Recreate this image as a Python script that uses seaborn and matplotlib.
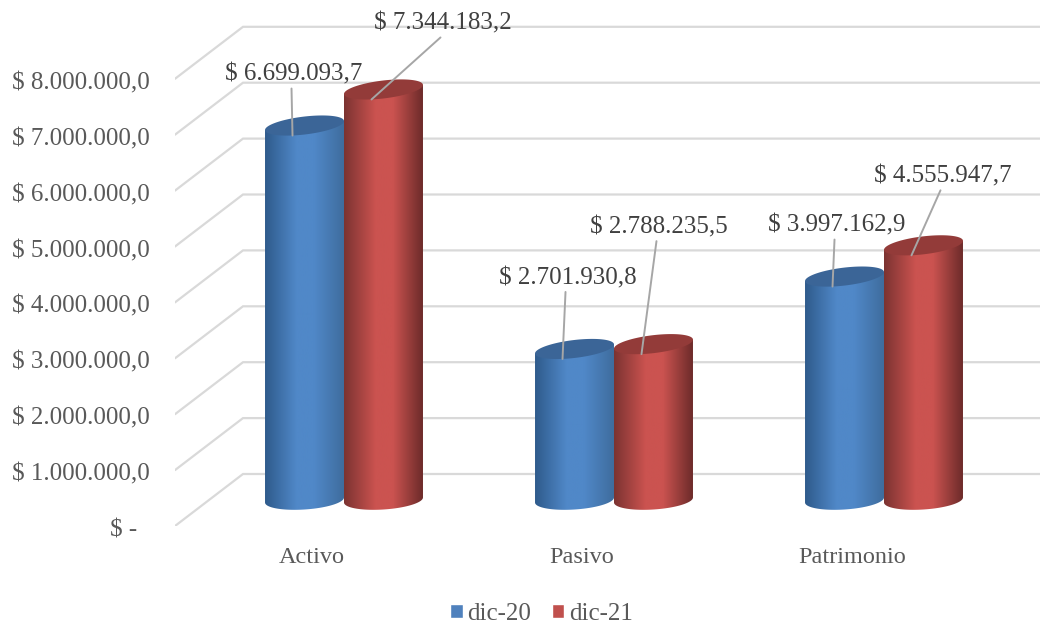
import numpy as np
import pandas as pd
import matplotlib
matplotlib.use('Agg')
import matplotlib.pyplot as plt
from matplotlib.colors import LinearSegmentedColormap
from matplotlib.patches import Polygon
from matplotlib.transforms import ScaledTranslation
import seaborn as sns

categories = ['Activo', 'Pasivo', 'Patrimonio']
series_names = ['dic-20', 'dic-21']
dic_20 = [6699093.7, 2701930.8, 3997162.9]
dic_21 = [7344183.2, 2788235.5, 4555947.7]
y_ticks = [0, 1000000, 2000000, 3000000, 4000000, 5000000, 6000000, 7000000, 8000000]

# pixel offset of each value label from the top of its bar
label_offsets = [(-11, 54), (-7, 74), (-8, 54), (59, 69), (5, 120), (19, 72)]

W, H = 1040, 624
PX_Y = 55.9 / 1e6       # pixels per unit of value
PX_X = 270.0            # pixels per category
DEPTH = 26 / PX_Y       # floor depth of the fake 3d box, half of it


def money(v):
    s = f'{v:,.1f}'.replace(',', '#').replace('.', ',').replace('#', '.')
    return '$ ' + s


def px_x(px):
    return (px - 344) / PX_X


def cylinder(ax, patch, dark, mid, edge, top):
    x0, w = patch.get_x(), patch.get_width()
    v = patch.get_height()
    cx = x0 + w / 2
    t = np.linspace(0, 2 * np.pi, 121)
    # ellipses are tilted a little, right side higher
    top_x = cx + w / 2 * np.cos(t)
    top_y = v + (9 * np.sin(t) + 4.5 * np.cos(t)) / PX_Y
    low = np.linspace(np.pi, 2 * np.pi, 60)
    low_x = cx + w / 2 * np.cos(low)
    low_y = (9.5 * np.sin(low) + 2.5 * np.cos(low)) / PX_Y
    body = np.vstack([
        np.column_stack([low_x, low_y]),
        [[x0 + w, v + 4.5 / PX_Y]],
        [[x0, v - 4.5 / PX_Y]],
    ])
    cmap = LinearSegmentedColormap.from_list(
        'cyl', [(0, dark), (0.4, mid), (0.62, mid), (1, edge)])
    im = ax.imshow(np.linspace(0, 1, 200).reshape(1, -1), cmap=cmap,
                   aspect='auto', extent=(x0, x0 + w, -20 / PX_Y, v + 20 / PX_Y),
                   zorder=3)
    clip = Polygon(body, closed=True, transform=ax.transData)
    im.set_clip_path(clip)
    ax.add_patch(Polygon(np.column_stack([top_x, top_y]), closed=True,
                         facecolor=top, edgecolor='none', zorder=3))
    patch.set_visible(False)


sns.set_style('white')
plt.rcParams['font.family'] = ['Liberation Serif', 'DejaVu Sans']

df = pd.DataFrame({
    'cat': categories * 2,
    'serie': [series_names[0]] * 3 + [series_names[1]] * 3,
    'valor': dic_20 + dic_21,
})

fig = plt.figure(figsize=(W / 100, H / 100), dpi=100)
ax = fig.add_axes([175 / W, (H - 526) / H, (W - 175) / W, 526 / H])
sns.barplot(data=df, x='cat', y='valor', hue='serie', ax=ax, width=0.585, gap=0,
            palette={'dic-20': '#4f81bd', 'dic-21': '#c0504d'}, errorbar=None,
            saturation=1)

# back wall + side wall lines
for v in y_ticks:
    ax.plot([px_x(175), px_x(243), px_x(W)], [v - DEPTH, v + DEPTH, v + DEPTH],
            color='#d9d9d9', lw=1.6, zorder=1, solid_joinstyle='miter')

bars = list(ax.patches)[:6]
styles = [('#2f5b8c', '#5088c8', '#3f6d9e', '#3b6597')] * 3 + \
         [('#7c3331', '#cb5350', '#6d2b2a', '#933b39')] * 3
for bar, st in zip(bars, styles):
    cylinder(ax, bar, *st)

for bar, off in zip(bars, label_offsets):
    cx = bar.get_x() + bar.get_width() / 2
    v = bar.get_height()
    ax.annotate(money(v), xy=(cx, v), xytext=(off[0], off[1] - 3),
                textcoords='offset pixels', ha='center', va='center',
                fontsize=18, color='#404040', zorder=6)
    # leader runs from under the label to the front rim of the cylinder
    ax.annotate('', xy=(cx - 12 / PX_X, v - 10 / PX_Y),
                xytext=(off[0] + 10, off[1] - 7), textcoords='offset pixels',
                arrowprops=dict(arrowstyle='-', color='#a6a6a6', lw=1.4,
                                shrinkA=0, shrinkB=0), zorder=5)

ax.set_xlim(px_x(175), px_x(W))
ax.set_ylim(-DEPTH, 500 / PX_Y)
ax.set_xlabel('')
ax.set_ylabel('')
# category labels sit left of the bars in the 3d projection
ax.set_xticks([i - 32 / PX_X for i in range(len(categories))])
ax.set_xticklabels(categories)
ax.set_yticks([v - DEPTH for v in y_ticks])
ax.set_yticklabels([money(v) if v else '$ -  ' for v in y_ticks])
ax.tick_params(axis='y', length=0, pad=18, labelsize=18, labelcolor='#595959')
ax.tick_params(axis='x', length=0, pad=15, labelsize=17.5, labelcolor='#595959')
shift = ScaledTranslation(0, -2 / 100, fig.dpi_scale_trans)
for lab in ax.get_yticklabels():
    lab.set_transform(lab.get_transform() + shift)
sns.despine(ax=ax, left=True, bottom=True)

sns.move_legend(ax, 'center', bbox_to_anchor=(541.5 / W, (H - 614) / H),
                bbox_transform=fig.transFigure, ncol=2, title=None, frameon=False,
                fontsize=18, labelcolor='#595959', handlelength=0.5,
                handleheight=0.5, handletextpad=0.2, columnspacing=0.8)

fig.savefig('out.png', dpi=100)
